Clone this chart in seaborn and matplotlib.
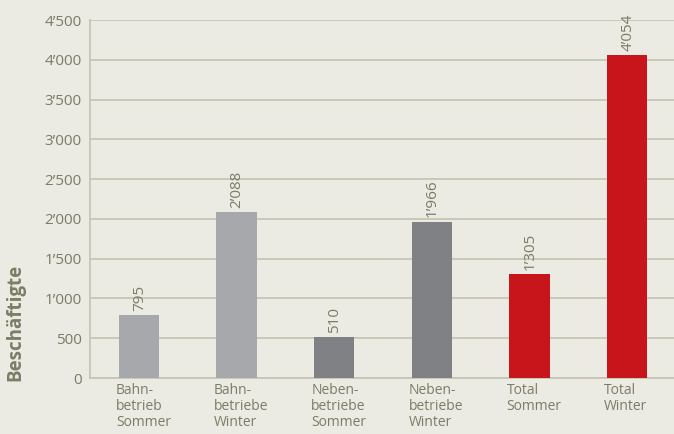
import matplotlib
matplotlib.use("Agg")
import matplotlib.pyplot as plt
import matplotlib.transforms as mtransforms
import seaborn as sns
import pandas as pd

# data
categories = ["Bahn-\nbetrieb\nSommer", "Bahn-\nbetriebe\nWinter",
              "Neben-\nbetriebe\nSommer", "Neben-\nbetriebe\nWinter",
              "Total\nSommer", "Total\nWinter"]
values = [795, 2088, 510, 1966, 1305, 4054]
colors = ["#a7a8ac", "#a7a8ac", "#808185", "#808185", "#c8151b", "#c8151b"]
yticks = [0, 500, 1000, 1500, 2000, 2500, 3000, 3500, 4000, 4500]

bg = "#ebeae3"
grid_c = "#c6c5b5"
txt_c = "#7d7c66"


def fmt(v):
    return f"{v:,}".replace(",", "\u2019")


sns.set_theme(style="white")
plt.rcParams["font.family"] = ["Open Sans", "DejaVu Sans"]

df = pd.DataFrame({"cat": categories, "val": values})

fig = plt.figure(figsize=(6.74, 4.34), dpi=100, facecolor=bg)
ax = fig.add_axes([90 / 674, 56 / 434, 586 / 674, 358 / 434], facecolor=bg)

bar_w = 0.41
sns.barplot(data=df, x="cat", y="val", hue="cat", palette=colors,
            width=bar_w, legend=False, ax=ax, saturation=1, zorder=3,
            linewidth=0)

ax.set_ylim(0, 4500)
ax.set_xlim(-0.5, 5.5)
ax.set_yticks(yticks)
ax.set_yticklabels([fmt(v) for v in yticks], color=txt_c, fontsize=11)
ax.yaxis.grid(True, color=grid_c, linewidth=1.3, zorder=0)
ax.set_axisbelow(True)
ax.tick_params(axis="both", length=0, pad=6)

for s in ["top", "right"]:
    ax.spines[s].set_visible(False)
for s in ["left", "bottom"]:
    ax.spines[s].set_color(grid_c)
    ax.spines[s].set_linewidth(1.3)

ax.set_xlabel("")
ax.set_ylabel("")

# category labels, left-aligned with bar edge
ax.set_xticks(range(len(categories)))
ax.set_xticklabels([])
trans = mtransforms.blended_transform_factory(ax.transData, ax.transAxes)
shift = mtransforms.ScaledTranslation(-3 / 100, -5 / 100, fig.dpi_scale_trans)
for i, lab in enumerate(categories):
    ax.text(i - bar_w / 2, 0, lab, transform=trans + shift, ha="left",
            va="top", color=txt_c, fontsize=10, linespacing=1.08)

# value labels
for i, v in enumerate(values):
    ax.annotate(fmt(v), (i, v), xytext=(0.5, 3), textcoords="offset points",
                rotation=90, ha="center", va="bottom", color=txt_c,
                fontsize=11)

fig.text(15 / 674, 53 / 434, "Beschäftigte", rotation=90, ha="center",
         va="bottom", color=txt_c, fontsize=13.5, fontweight="bold")

fig.savefig("out.png", dpi=100, facecolor=bg)
